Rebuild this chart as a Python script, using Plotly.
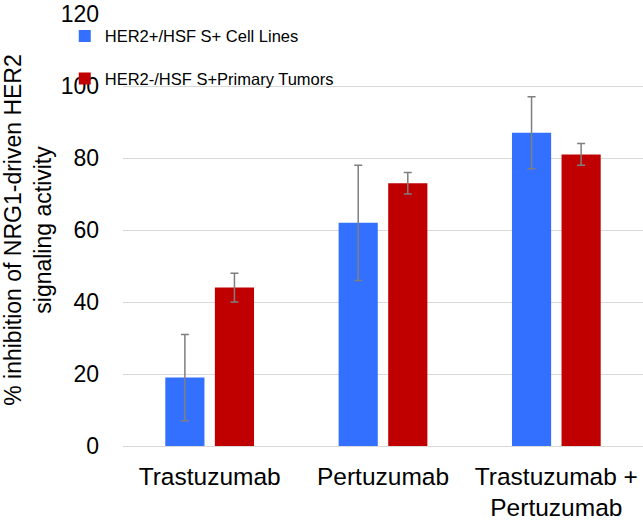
import plotly.graph_objects as go

categories = ["Trastuzumab", "Pertuzumab", "Trastuzumab +<br>Pertuzumab"]
series_names = ["HER2+/HSF S+ Cell Lines", "HER2-/HSF S+Primary Tumors"]
cell_lines = [19, 62, 87]
cell_lines_err = [12, 16, 10]
tumors = [44, 73, 81]
tumors_err = [4, 3, 3]
y_ticks = [0, 20, 40, 60, 80, 100, 120]

FONT = "Liberation Sans, Arial, sans-serif"
err_style = dict(type="data", color="#7f7f7f", thickness=1.5, width=4)

fig = go.Figure()
fig.add_trace(go.Bar(
    x=categories, y=cell_lines, name=series_names[0], legendgroup="a",
    marker=dict(color="#3370FF", line=dict(width=0)),
    error_y=dict(array=cell_lines_err, **err_style),
))
fig.add_trace(go.Bar(
    x=categories, y=tumors, name=series_names[1], legendgroup="b",
    marker=dict(color="#C00000", line=dict(width=0)),
    error_y=dict(array=tumors_err, **err_style),
))

fig.update_layout(
    width=643, height=521,
    margin=dict(l=123, r=0, t=14, b=75),
    paper_bgcolor="white", plot_bgcolor="white",
    font=dict(family=FONT, color="#000000"),
    barmode="group", bargap=0.428, bargroupgap=0.21,
    showlegend=True,
    legend=dict(
        x=-0.112, y=0.989, xanchor="left", yanchor="top",
        bgcolor="rgba(0,0,0,0)", font=dict(size=16.5, family=FONT),
        traceorder="grouped", tracegroupgap=18, itemwidth=30,
    ),
    xaxis=dict(
        showgrid=False, showline=False, ticks="", automargin=False,
        tickfont=dict(size=24.5, family=FONT), ticklabelstandoff=13,
    ),
    yaxis=dict(
        range=[0, 120], tickvals=y_ticks, showgrid=True, gridcolor="#d9d9d9",
        gridwidth=1, zeroline=True, zerolinecolor="#d9d9d9", zerolinewidth=1,
        showline=False, ticks="", ticklabelstandoff=23, automargin=False,
        tickfont=dict(size=23, family=FONT),
        title=dict(text="% inhibition of NRG1-driven HER2<br>signaling activity",
                   font=dict(size=23, family=FONT), standoff=10),
    ),
)

fig.write_html("out.html", config={"displayModeBar": False},
               post_script="document.body.style.margin='0';")
